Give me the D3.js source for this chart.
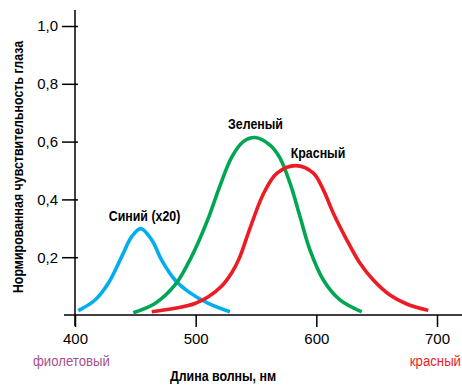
<!DOCTYPE html>
<html><head><meta charset="utf-8">
<script src="https://cdn.jsdelivr.net/npm/d3@7"></script>
<style>body{margin:0;background:#fff}svg{display:block}</style>
</head><body>
<svg id="c" width="462" height="385"></svg>
<script>
// Data (wavelength nm, normalized sensitivity)
const blueSeries = [[402.7,0.015],[416.6,0.052],[427.6,0.110],[438.7,0.202],[447,0.271],[454.5,0.299],[463.6,0.260],[471.8,0.190],[482.9,0.121],[493.9,0.081],[510.5,0.040],[528.4,0.011]];
const greenSeries = [[448.3,0.008],[466.3,0.040],[482.9,0.104],[493.9,0.180],[502.2,0.252],[510.5,0.335],[520.2,0.448],[530.1,0.548],[539.5,0.600],[549.2,0.614],[561.6,0.588],[569.9,0.543],[578.2,0.456],[586.5,0.340],[594.7,0.225],[605.8,0.121],[619.6,0.052],[637.6,0.011]];
const redSeries = [[463.6,0.011],[482.9,0.023],[499.4,0.040],[510.5,0.063],[521.6,0.100],[529.9,0.146],[536,0.195],[545,0.300],[556,0.418],[567.2,0.490],[583,0.517],[597.5,0.491],[605.8,0.433],[614.1,0.352],[625.2,0.260],[636.2,0.179],[647.2,0.121],[661,0.069],[674.9,0.038],[692.8,0.016]];
const xTicks = [400,500,600,700];
const yTicks = [0.2,0.4,0.6,0.8,1.0];
const seriesLabels = ["Синий (x20)","Зеленый","Красный"];
const labelAnchors = [[457.6,0.325],[549.6,0.644],[601.4,0.543]];

const svg = d3.select("#c");
const font = "'Liberation Sans',Arial,sans-serif";
const x = d3.scaleLinear().domain([400,700]).range([75,437]);
const y = d3.scaleLinear().domain([0,1]).range([315,26]);

function label(px, py, str, o){
  const g = svg.append("g").attr("transform",`translate(${px},${py})${o.rot?" rotate(-90)":""} scale(${o.sx||1},1)`);
  return g.append("text").attr("text-anchor",o.anchor||"start").attr("font-family",font)
    .attr("font-weight",o.bold?"bold":"normal").attr("font-size",o.size).attr("fill",o.fill||"#000").text(str);
}

// axes lines
svg.append("line").attr("x1",64).attr("x2",462).attr("y1",y(0)).attr("y2",y(0)).attr("stroke","#000").attr("stroke-width",1.5);
svg.append("line").attr("x1",x(400)).attr("x2",x(400)).attr("y1",10).attr("y2",326).attr("stroke","#000").attr("stroke-width",1.5);

// y ticks
const yAxis = d3.axisLeft(y).tickValues(yTicks).tickSize(13).tickPadding(4)
  .tickFormat(d => d3.format(".1f")(d).replace(".",","));
const gy = svg.append("g").attr("transform",`translate(${x(400)+3},0)`).call(yAxis);
gy.select(".domain").remove();
gy.selectAll(".tick line").attr("stroke","#000").attr("stroke-width",1.5).attr("x2",-16);
gy.selectAll(".tick text").attr("font-family",font).attr("font-size",15).attr("fill","#000").attr("x",-20);

// x ticks
const xAxis = d3.axisBottom(x).tickValues(xTicks).tickSize(12).tickPadding(6).tickFormat(d3.format("d"));
const gx = svg.append("g").attr("transform",`translate(0,${y(0)})`).call(xAxis);
gx.select(".domain").remove();
gx.selectAll(".tick line").attr("stroke","#000").attr("stroke-width",1.5);
gx.selectAll(".tick text").attr("font-family",font).attr("font-size",15).attr("fill","#000");

// curves
const line = d3.line().x(d=>x(d[0])).y(d=>y(d[1])).curve(d3.curveCatmullRom.alpha(0.5));
const curves = [[blueSeries,"#00aeef"],[greenSeries,"#00a651"],[redSeries,"#ed1c24"]];
curves.forEach(([data,col])=>{
  svg.append("path").datum(data).attr("d",line).attr("fill","none").attr("stroke",col).attr("stroke-width",3.6).attr("stroke-linecap","butt");
});

// series labels
seriesLabels.forEach((t,i)=>{
  label(x(labelAnchors[i][0]), y(labelAnchors[i][1]), t, {anchor:"middle", bold:true, size:15.5, sx:0.8});
});

// color range labels
label(33,366,"фиолетовый",{size:15, sx:0.88, fill:"#a8508f"});
label(461,366,"красный",{size:15, sx:0.88, anchor:"end", fill:"#ed1c24"});

// axis titles
label(223,381,"Длина волны, нм",{anchor:"middle", bold:true, size:15.5, sx:0.8});
label(23,167,"Нормированная чувствительность глаза",{anchor:"middle", bold:true, size:15.5, sx:0.8, rot:true});
</script>
</body></html>
